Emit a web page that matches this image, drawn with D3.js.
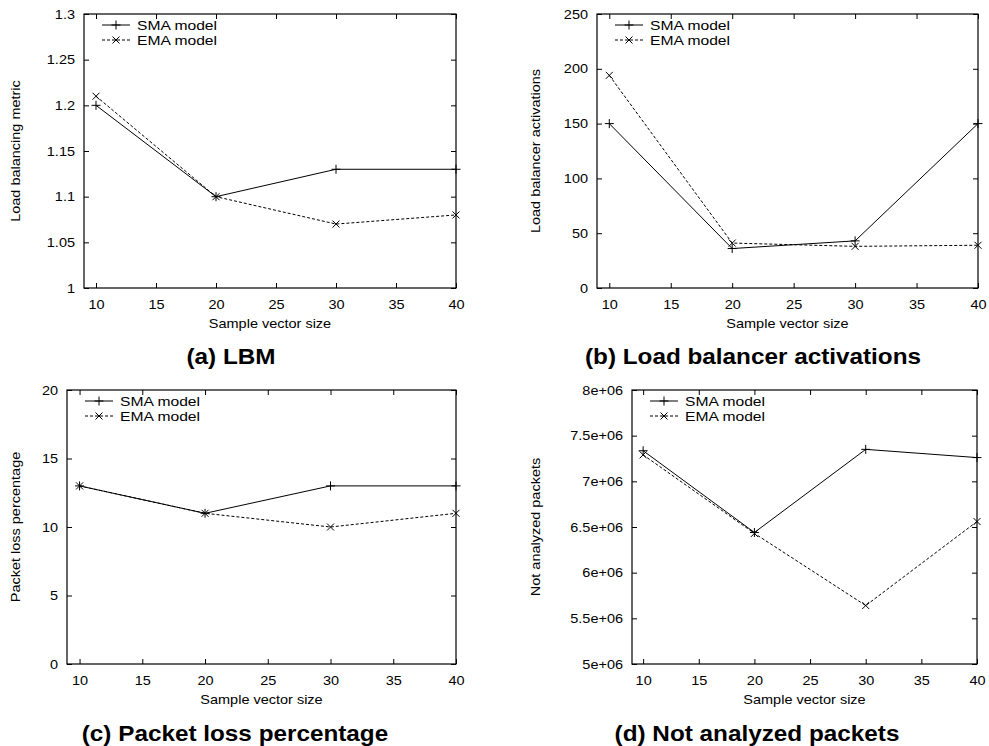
<!DOCTYPE html>
<html>
<head>
<meta charset="utf-8">
<script src="https://cdn.jsdelivr.net/npm/d3@7"></script>
<style>
  body { margin: 0; background: #fff; }
  svg { display: block; font-family: "Liberation Sans", Arial, Helvetica, sans-serif; }
</style>
</head>
<body>
<svg id="chart" width="989" height="746"></svg>
<script>
// sample vector sizes (shared x values)
var sizes = [10, 20, 30, 40];
var xTicks = [10, 15, 20, 25, 30, 35, 40];

// (a) LBM
var lbmSMA = [1.2, 1.1, 1.13, 1.13];
var lbmEMA = [1.21, 1.1, 1.07, 1.08];
var lbmTicks = [1, 1.05, 1.1, 1.15, 1.2, 1.25, 1.3];

// (b) load balancer activations
var actSMA = [150, 36, 43, 150];
var actEMA = [194, 41, 38, 39];
var actTicks = [0, 50, 100, 150, 200, 250];

// (c) packet loss percentage
var lossSMA = [13, 11, 13, 13];
var lossEMA = [13, 11, 10, 11];
var lossTicks = [0, 5, 10, 15, 20];

// (d) not analyzed packets
var napSMA = [7.335e6, 6.44e6, 7.35e6, 7.26e6];
var napEMA = [7.29e6, 6.43e6, 5.64e6, 6.56e6];
var napTicks = [5e6, 5.5e6, 6e6, 6.5e6, 7e6, 7.5e6, 8e6];

var seriesNames = ['SMA model', 'EMA model'];

var sciFmt = function(d) {
  var m = d / 1e6;
  return (m % 1 === 0 ? m : m.toFixed(1)) + 'e+06';
};

var panels = [
  {title: '(a) LBM', ylabel: 'Load balancing metric', sma: lbmSMA, ema: lbmEMA, ticks: lbmTicks, fmt: String,
   box: {l: 84, r: 456, t: 14, b: 288}, ylabX: 16, titleX: 231, titleY: 364},
  {title: '(b) Load balancer activations', ylabel: 'Load balancer activations', sma: actSMA, ema: actEMA, ticks: actTicks, fmt: String,
   box: {l: 597, r: 978, t: 14, b: 288}, ylabX: 536, titleX: 753, titleY: 364},
  {title: '(c) Packet loss percentage', ylabel: 'Packet loss percentage', sma: lossSMA, ema: lossEMA, ticks: lossTicks, fmt: String,
   box: {l: 67, r: 456, t: 390, b: 664}, ylabX: 16, titleX: 235, titleY: 741},
  {title: '(d) Not analyzed packets', ylabel: 'Not analyzed packets', sma: napSMA, ema: napEMA, ticks: napTicks, fmt: sciFmt,
   box: {l: 632, r: 977, t: 390, b: 664}, ylabX: 536, titleX: 757, titleY: 741}
];

var svg = d3.select('#chart');
var tickLen = 5;
var wide = 1.16;   // the source font is set wider than Helvetica

// widen text along its baseline, around its anchor point
var stretch = function(sel, sx, rot) {
  sel.each(function() {
    var t = d3.select(this);
    var x = +t.attr('x') || 0, y = +t.attr('y') || 0;
    t.attr('x', 0).attr('y', 0)
      .attr('transform', 'translate(' + x + ',' + y + ')' + (rot ? ' rotate(' + rot + ')' : '') + ' scale(' + sx + ',1)');
  });
};

var plus = function(g, x, y, s) {
  g.append('path').attr('d', 'M' + (x - s) + ',' + y + 'H' + (x + s) + 'M' + x + ',' + (y - s) + 'V' + (y + s))
    .attr('stroke', '#000').attr('stroke-width', 1).attr('fill', 'none');
};
var cross = function(g, x, y, s) {
  g.append('path').attr('d', 'M' + (x - s) + ',' + (y - s) + 'L' + (x + s) + ',' + (y + s) + 'M' + (x - s) + ',' + (y + s) + 'L' + (x + s) + ',' + (y - s))
    .attr('stroke', '#000').attr('stroke-width', 1).attr('fill', 'none');
};

var styleTicks = function(a) {
  a.select('.domain').remove();
  a.attr('font-family', null).attr('font-size', null);
  a.selectAll('line').attr('stroke', '#000');
  a.selectAll('text').attr('font-size', 12.5).attr('fill', '#000').call(stretch, wide);
};

panels.forEach(function(p) {
  var b = p.box;
  var g = svg.append('g');

  var x = d3.scaleLinear().domain([9, 40]).range([b.l, b.r]);
  var y = d3.scaleLinear().domain([p.ticks[0], p.ticks[p.ticks.length - 1]]).range([b.b, b.t]);

  // axes with inward ticks on all four sides
  g.append('g').attr('transform', 'translate(0,' + b.b + ')')
    .call(d3.axisBottom(x).tickValues(xTicks).tickSize(-tickLen).tickPadding(12).tickFormat(d3.format('d')))
    .call(styleTicks);
  g.append('g').attr('transform', 'translate(0,' + b.t + ')')
    .call(d3.axisTop(x).tickValues(xTicks).tickSize(-tickLen).tickFormat(''))
    .call(styleTicks);
  g.append('g').attr('transform', 'translate(' + b.l + ',0)')
    .call(d3.axisLeft(y).tickValues(p.ticks).tickSize(-tickLen).tickPadding(9).tickFormat(p.fmt))
    .call(styleTicks);
  g.append('g').attr('transform', 'translate(' + b.r + ',0)')
    .call(d3.axisRight(y).tickValues(p.ticks).tickSize(-tickLen).tickFormat(''))
    .call(styleTicks);

  g.append('rect').attr('x', b.l).attr('y', b.t).attr('width', b.r - b.l).attr('height', b.b - b.t)
    .attr('fill', 'none').attr('stroke', '#000').attr('stroke-width', 1.2);

  // axis labels
  g.append('text').attr('x', (b.l + b.r) / 2).attr('y', b.b + 40).attr('text-anchor', 'middle')
    .attr('font-size', 12.5).text('Sample vector size').call(stretch, wide);
  g.append('text').attr('x', p.ylabX).attr('y', (b.t + b.b) / 2)
    .attr('dy', '0.35em').attr('text-anchor', 'middle').attr('font-size', 12.5).text(p.ylabel)
    .call(stretch, wide, -90);

  // lines
  var line = d3.line().x(function(d, i) { return x(sizes[i]); }).y(function(d) { return y(d); });
  g.append('path').datum(p.sma).attr('d', line).attr('fill', 'none').attr('stroke', '#000').attr('stroke-width', 1);
  g.append('path').datum(p.ema).attr('d', line).attr('fill', 'none').attr('stroke', '#000').attr('stroke-width', 1)
    .attr('stroke-dasharray', '3,2');
  p.sma.forEach(function(d, i) { plus(g, x(sizes[i]), y(d), 4.5); });
  p.ema.forEach(function(d, i) { cross(g, x(sizes[i]), y(d), 3.5); });

  // legend
  var ly = [b.t + 11, b.t + 26];
  g.append('line').attr('x1', b.l + 18).attr('x2', b.l + 46).attr('y1', ly[0]).attr('y2', ly[0]).attr('stroke', '#000');
  plus(g, b.l + 32, ly[0], 4.5);
  g.append('line').attr('x1', b.l + 18).attr('x2', b.l + 46).attr('y1', ly[1]).attr('y2', ly[1]).attr('stroke', '#000')
    .attr('stroke-dasharray', '3,2');
  cross(g, b.l + 32, ly[1], 3.5);
  seriesNames.forEach(function(n, i) {
    g.append('text').attr('x', b.l + 53).attr('y', ly[i]).attr('dy', '0.35em').attr('font-size', 13.5).text(n)
      .call(stretch, wide);
  });

  // title
  g.append('text').attr('x', p.titleX).attr('y', p.titleY).attr('text-anchor', 'middle')
    .attr('font-size', 22.5).attr('font-weight', 'bold').text(p.title).call(stretch, 1.08);
});
</script>
</body>
</html>
